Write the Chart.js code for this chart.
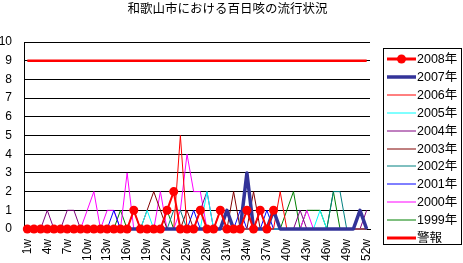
<!DOCTYPE html>
<html>
<head>
<meta charset="utf-8">
<script src="https://cdn.jsdelivr.net/npm/chart.js@4/dist/chart.umd.min.js"></script>
<style>
  html, body { margin: 0; padding: 0; background: #fff; }
</style>
</head>
<body>
<canvas id="chart" width="463" height="263"></canvas>
<script>
// weekly counts, 1w..52w
const weeks = ["1w","2w","3w","4w","5w","6w","7w","8w","9w","10w","11w","12w","13w",
  "14w","15w","16w","17w","18w","19w","20w","21w","22w","23w","24w","25w","26w",
  "27w","28w","29w","30w","31w","32w","33w","34w","35w","36w","37w","38w","39w",
  "40w","41w","42w","43w","44w","45w","46w","47w","48w","49w","50w","51w","52w"];

const y2008 = [0,0,0,0,0,0,0,0,0,0,0,0,0,0,0,0,1,0,0,0,0,1,2,0,0,0,1,0,0,1,
  0,0,0,1,0,1,0,1,null,null,null,null,null,null,null,null,null,null,null,null,null,null];
const y2007 = [0,0,0,0,0,0,0,0,0,0,0,0,0,0,0,0,0,0,0,0,0,0,0,0,0,0,0,0,0,0,
  1,0,0,3,0,0,0,1,0,0,0,0,0,0,0,0,0,0,0,0,1,0];
const y2006 = [0,0,0,0,0,0,0,0,0,0,0,0,0,0,0,0,0,0,0,0,0,0,0,5,0,0,0,0,0,0,
  0,0,0,0,0,0,0,0,2,0,0,0,0,0,0,0,0,0,0,0,0,0];
const y2005 = [0,0,0,0,0,0,0,0,0,0,0,0,0,0,0,0,0,0,1,0,0,0,0,0,0,0,0,2,0,0,
  0,0,0,0,0,0,0,0,0,0,0,0,0,0,1,0,0,0,0,0,0,0];
const y2004 = [0,0,0,1,0,0,1,1,0,0,0,0,0,0,0,0,0,0,0,0,0,0,0,0,0,0,1,2,0,0,
  0,0,0,0,0,1,0,0,0,0,0,1,0,0,0,0,0,0,0,0,0,1];
const y2003 = [0,0,0,0,0,0,0,0,0,0,0,0,0,0,0,0,0,0,1,2,1,0,0,0,1,0,0,0,0,0,
  0,2,0,0,2,0,0,0,0,0,0,0,0,0,0,0,0,0,0,0,0,0];
const y2002 = [0,0,0,0,0,0,0,0,0,0,0,0,0,0,0,0,0,0,0,0,0,0,1,1,0,0,0,0,0,0,
  0,0,0,0,0,0,0,0,0,0,0,0,0,0,0,0,2,2,0,0,0,0];
const y2001 = [0,0,0,0,0,0,0,0,0,0,0,0,0,1,0,0,1,0,0,0,0,0,0,0,0,1,0,0,0,0,
  0,0,1,0,0,0,1,0,0,0,0,0,0,0,0,0,0,0,0,0,0,0];
const y2000 = [0,0,0,0,0,0,0,0,0,1,2,0,1,1,0,3,0,0,0,0,2,0,0,1,4,2,2,0,0,0,
  0,0,0,0,0,0,0,0,0,0,0,0,1,0,0,0,0,0,0,0,0,0];
const y1999 = [0,0,0,0,0,0,0,0,0,0,0,0,0,0,1,0,0,0,0,0,0,1,0,0,0,0,0,0,0,1,
  0,0,0,0,0,1,0,0,0,1,2,0,1,1,1,0,2,0,0,0,0,0];
const alarm = [9,9,9,9,9,9,9,9,9,9,9,9,9,9,9,9,9,9,9,9,9,9,9,9,9,9,
  9,9,9,9,9,9,9,9,9,9,9,9,9,9,9,9,9,9,9,9,9,9,9,9,9,9];

const title = "和歌山市における百日咳の流行状況";
const fontFamily = "'Liberation Sans', 'Noto Sans CJK JP', sans-serif";

function series(label, data, color, width, extra) {
  return Object.assign({
    label: label,
    data: data,
    borderColor: color,
    backgroundColor: color,
    borderWidth: width,
    borderJoinStyle: "round",
    pointRadius: 0,
    tension: 0,
    clip: false,
    legendWidth: width,
  }, extra || {});
}

const datasets = [
  series("2008年", y2008, "#FF0000", 2, { pointRadius: 4.5, pointBorderWidth: 0, pointStyle: "circle", legendWidth: 3 }),
  series("2007年", y2007, "#333399", 3.5),
  series("2006年", y2006, "#FF0000", 1),
  series("2005年", y2005, "#00FFFF", 1),
  series("2004年", y2004, "#800080", 1),
  series("2003年", y2003, "#800000", 1),
  series("2002年", y2002, "#008080", 1),
  series("2001年", y2001, "#0000FF", 1),
  series("2000年", y2000, "#FF00FF", 1),
  series("1999年", y1999, "#008000", 1),
  series("警報", alarm, "#FF0000", 2.5, { legendWidth: 3 }),
];

// title + boxed legend drawn by hand, like the Excel original
const decorations = {
  id: "decorations",
  afterDraw(chart) {
    const ctx = chart.ctx;
    ctx.save();
    ctx.fillStyle = "#000";
    ctx.font = "12.5px 'Noto Sans CJK JP', sans-serif";
    ctx.textAlign = "center";
    ctx.textBaseline = "middle";
    ctx.fillText(title, 227.5, 8);

    ctx.strokeStyle = "#000";
    ctx.lineWidth = 1;
    ctx.strokeRect(383.5, 48.5, 78, 196);

    ctx.font = "12.5px " + fontFamily;
    ctx.textAlign = "left";
    chart.data.datasets.forEach((ds, i) => {
      const y = Math.round(59 + i * 17.9);
      ctx.strokeStyle = ds.borderColor;
      ctx.lineWidth = ds.legendWidth;
      ctx.beginPath();
      ctx.moveTo(387, y);
      ctx.lineTo(416, y);
      ctx.stroke();
      if (ds.pointRadius > 0) {
        ctx.fillStyle = ds.borderColor;
        ctx.beginPath();
        ctx.arc(401.5, y, ds.pointRadius, 0, Math.PI * 2);
        ctx.fill();
      }
      ctx.fillStyle = "#000";
      ctx.fillText(ds.label, 417, y + 1);
    });
    ctx.restore();
  },
};

new Chart(document.getElementById("chart"), {
  type: "line",
  data: { labels: weeks, datasets: datasets },
  options: {
    responsive: false,
    devicePixelRatio: 1,
    animation: false,
    layout: { padding: { top: 42, right: 93, left: 0, bottom: 0 } },
    plugins: {
      legend: { display: false },
      title: { display: false },
      tooltip: { enabled: false },
    },
    scales: {
      x: {
        offset: true,
        grid: { display: false, drawTicks: false },
        border: { display: true, color: "#000" },
        ticks: {
          autoSkip: false,
          minRotation: 90,
          maxRotation: 90,
          padding: 10,
          color: "#000",
          font: { family: fontFamily, size: 12 },
          callback: (v, i) => (i % 3 === 0 ? weeks[i] : ""),
        },
        afterFit: (scale) => { scale.height = 34; },
      },
      y: {
        min: 0,
        max: 10,
        grid: { color: "#000", lineWidth: 1, drawTicks: false },
        border: { display: true, color: "#000" },
        ticks: {
          stepSize: 1,
          padding: 12,
          color: "#000",
          font: { family: fontFamily, size: 12 },
        },
        afterFit: (scale) => { scale.width = 24; },
      },
    },
  },
  plugins: [decorations],
});
</script>
</body>
</html>
